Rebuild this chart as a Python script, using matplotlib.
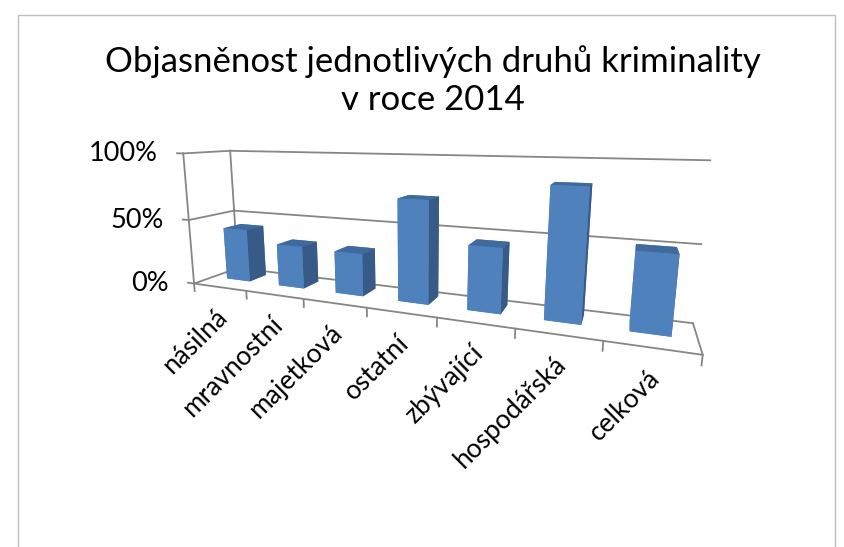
import matplotlib
matplotlib.use("Agg")
import matplotlib.pyplot as plt
import numpy as np
from matplotlib.transforms import ScaledTranslation
from matplotlib.patches import Rectangle
from mpl_toolkits.mplot3d import proj3d

categories = ["násilná", "mravnostní", "majetková", "ostatní", "zbývající", "hospodářská", "celková"]
values = [0.41, 0.32, 0.31, 0.72, 0.44, 0.85, 0.49]
zticks = [0.0, 0.5, 1.0]
zticklabels = ["0%", "50%", "100%"]
title = "Objasněnost jednotlivých druhů kriminality\nv roce 2014"

plt.rcParams['font.family'] = ['Lato', 'DejaVu Sans']

W, H = 845, 547
fig = plt.figure(figsize=(W / 100, H / 100), dpi=100)
fig.patches.append(Rectangle((18 / W, -0.1), (835 - 18) / W, (H - 15) / H + 0.1,
                             transform=fig.transFigure, fill=False,
                             edgecolor='#bfbfbf', linewidth=1.0))
fig.text(433 / W, 1 - 45 / H, title, ha='center', va='top', fontsize=25,
         linespacing=1.25, color='black')

ax_h = 0.85
ax_w = ax_h * H / W
cx, cy = 409 / W, 1 - 237 / H
ax = fig.add_axes([cx - ax_w / 2, cy - ax_h / 2, ax_w, ax_h], projection='3d')
ax.set_proj_type('persp', focal_length=0.21)
ax.view_init(elev=11, azim=-68)
n = len(categories)
x0, x1 = -0.5, n - 0.5
y0, y1 = 0.0, 1.0
ax.set_xlim(x0, x1)
ax.set_ylim(y0, y1)
ax.set_zlim(0, 1)
ax.set_box_aspect((7, 1.0, 2.0), zoom=1.13)
ax.set_axis_off()

lc = '#868686'
lw = 1.3
arts = []
for z in zticks:
    arts += ax.plot([x0, x1], [y1, y1], [z, z], color=lc, lw=lw)
    arts += ax.plot([x0, x0], [y0, y1], [z, z], color=lc, lw=lw)
arts += ax.plot([x0, x0], [y1, y1], [0, 1], color=lc, lw=lw)
arts += ax.plot([x0, x0], [y0, y0], [0, 1], color=lc, lw=lw)
arts += ax.plot([x0, x1], [y0, y0], [0, 0], color=lc, lw=lw)
arts += ax.plot([x1, x1], [y0, y1], [0, 0], color=lc, lw=lw)
for xb in np.arange(n + 1) - 0.5:
    arts += ax.plot([xb, xb], [y0, y0], [0, -0.06], color=lc, lw=lw)
for z in zticks:
    arts += ax.plot([x0 - 0.12, x0], [y0, y0], [z, z], color=lc, lw=lw)

bw = 0.45
xs = np.arange(n) - bw / 2
front = '#4F81BD'
side = '#375A86'
top = '#3F6A9E'
cols = []
for _ in range(n):
    cols += [front, top, front, front, front, side]
bars = ax.bar3d(xs, np.full(n, 0.42), np.zeros(n), bw, 0.4, values,
                color=cols, shade=False, edgecolor='none')
arts.append(bars)
for a in arts:
    a.set_clip_on(False)

fig.canvas.draw()


def to_fig(x, y, z):
    px, py, _ = proj3d.proj_transform(x, y, z, ax.M)
    d = ax.transData.transform((px, py))
    return fig.transFigure.inverted().transform(d)


for z, lab in zip(zticks, zticklabels):
    fx, fy = to_fig(x0, y0, z)
    fig.text(fx, fy, lab, ha='right', va='center', fontsize=19.5,
             transform=fig.transFigure + ScaledTranslation(-18 / 72, 0, fig.dpi_scale_trans))
for i, lab in enumerate(categories):
    fx, fy = to_fig(i, y0, 0)
    fig.text(fx, fy, lab, ha='right', va='center', fontsize=19,
             rotation=45, rotation_mode='anchor',
             transform=fig.transFigure + ScaledTranslation(3 / 72, -19 / 72, fig.dpi_scale_trans))

fig.savefig("out.png", dpi=100)
